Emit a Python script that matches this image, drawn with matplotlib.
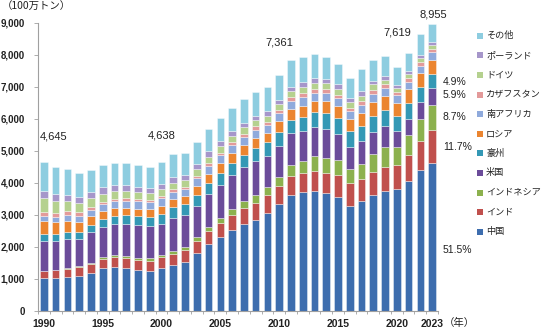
import matplotlib
matplotlib.use("Agg")
import matplotlib.pyplot as plt
from matplotlib.patches import Rectangle
import numpy as np

years = list(range(1990, 2024))

china = [1030, 1040, 1070, 1100, 1200, 1340, 1380, 1340, 1280, 1250, 1340, 1440, 1530, 1810,
         2090, 2320, 2520, 2720, 2840, 3050, 3330, 3620, 3700, 3760, 3670, 3560, 3290, 3420,
         3610, 3740, 3810, 4060, 4400, 4610]
india = [223, 240, 256, 270, 280, 297, 314, 322, 317, 319, 335, 348, 362, 381, 409, 437, 470,
         503, 530, 560, 570, 580, 600, 610, 650, 680, 700, 710, 740, 770, 750, 810, 910, 1048]
indonesia = [11, 14, 23, 27, 32, 41, 50, 55, 62, 73, 77, 92, 103, 114, 132, 152, 194, 217, 240,
             256, 275, 353, 386, 474, 458, 462, 456, 461, 557, 616, 564, 614, 687, 779]
usa = [934, 904, 905, 858, 945, 937, 964, 990, 1017, 1000, 974, 1024, 993, 972, 1008, 1026,
       1054, 1040, 1063, 975, 984, 993, 922, 893, 907, 813, 660, 702, 686, 640, 485, 524, 539, 528]
australia = [206, 215, 223, 225, 225, 243, 254, 275, 290, 297, 309, 330, 339, 351, 362, 378, 382,
             393, 401, 420, 435, 416, 448, 471, 502, 504, 503, 482, 500, 506, 476, 474, 445, 440]
russia = [395, 353, 337, 305, 271, 263, 257, 245, 232, 250, 258, 270, 256, 277, 282, 299, 310,
          314, 329, 301, 322, 337, 358, 355, 358, 374, 386, 412, 439, 440, 400, 436, 440, 440]
south_africa = [175, 178, 174, 182, 195, 206, 206, 220, 223, 224, 224, 223, 220, 237, 243, 245,
                245, 248, 253, 250, 255, 252, 259, 256, 261, 252, 250, 252, 254, 254, 248, 235, 230, 235]
kazakhstan = [131, 130, 126, 112, 105, 83, 77, 73, 70, 58, 75, 79, 71, 85, 87, 87, 97, 97, 111,
              101, 111, 116, 121, 120, 114, 107, 103, 112, 118, 115, 113, 116, 118, 112]
germany = [433, 360, 322, 297, 262, 253, 243, 228, 212, 204, 206, 205, 211, 206, 210, 206, 199,
           202, 192, 184, 183, 189, 197, 191, 186, 184, 176, 175, 169, 133, 107, 126, 131, 102]
poland = [215, 209, 198, 198, 200, 200, 202, 201, 179, 171, 163, 164, 162, 163, 162, 160, 156,
          145, 144, 135, 133, 139, 144, 143, 137, 136, 131, 127, 122, 112, 101, 107, 107, 100]
other = [892, 847, 806, 736, 695, 687, 663, 661, 688, 644, 677, 715, 683, 694, 705, 720, 723,
         741, 747, 748, 763, 835, 805, 737, 697, 638, 615, 697, 655, 644, 565, 548, 633, 561]

names = ["中国", "インド", "インドネシア", "米国", "豪州", "ロシア", "南アフリカ",
         "カザフスタン", "ドイツ", "ポーランド", "その他"]
series = [china, india, indonesia, usa, australia, russia, south_africa,
          kazakhstan, germany, poland, other]
colors = ["#3D6DAE", "#C0504D", "#8CB14E", "#6B4C9A", "#3498B5", "#EB8530", "#8FAADC",
          "#E39A9A", "#B5D18F", "#A696CA", "#8ECDE0"]

total_label_years = [1990, 2000, 2010, 2020, 2023]
total_label_values = [4645, 4638, 7361, 7619, 8955]
share_countries = ["中国", "インド", "インドネシア", "米国", "豪州"]

ytick_values = list(range(0, 9001, 1000))
xtick_years = [1990, 1995, 2000, 2005, 2010, 2015, 2020, 2023]

plt.rcParams['font.family'] = ['Noto Sans CJK JP', 'DejaVu Sans']

W, H = 544, 328
fig = plt.figure(figsize=(W / 100, H / 100), dpi=100)
ax = fig.add_axes([38 / W, (H - 311) / H, 400 / W, (311 - 22.7) / H])

bottom = np.zeros(len(years))
for vals, col in zip(series, colors):
    ax.bar(years, vals, width=0.65, bottom=bottom, color=col,
           edgecolor=(1, 1, 1, 0.45), linewidth=0.6, zorder=2)
    bottom += np.array(vals)

ax.set_xlim(1989.5, 2023.5)
ax.set_ylim(0, 9000)

num_font = ['Liberation Sans', 'DejaVu Sans']
ax.set_yticks(ytick_values)
ax.set_yticklabels([f"{v:,}" for v in ytick_values], fontsize=7, fontweight='bold',
                   family=num_font, color='#222222')
ax.set_xticks(xtick_years)
ax.set_xticklabels([str(y) for y in xtick_years], fontsize=7.5, fontweight='bold',
                   family=num_font, color='#222222')
ax.set_xticks(np.arange(1989.5, 2024, 1), minor=True)
ax.tick_params(axis='x', which='major', length=0, pad=6)
ax.tick_params(axis='x', which='minor', length=2.5, color='#A0A0A0', width=0.6)
ax.tick_params(axis='y', length=3, color='#A0A0A0', width=0.6, pad=6.5)

for s in ['top', 'right']:
    ax.spines[s].set_visible(False)
for s in ['left', 'bottom']:
    ax.spines[s].set_color('#A0A0A0')
    ax.spines[s].set_linewidth(0.8)

# total labels (positions tuned to reference)
label_y = [5440, 5470, 8380, 8690, 9250]
label_dx = [0.8, 0, 0, 0, 0.1]
for yr, v, ly, dx in zip(total_label_years, total_label_values, label_y, label_dx):
    ax.text(yr + dx, ly, f"{v:,}", ha='center', va='center', fontsize=8,
            family=['Liberation Sans', 'DejaVu Sans'], color='#222222', clip_on=False)

# share labels for 2023
last_total = sum(s[-1] for s in series)
share_y = [1900, 5130, 6060, 6750, 7160]
for nm, sy in zip(share_countries, share_y):
    v = series[names.index(nm)][-1]
    ax.text(2023.9, sy, f"{v / last_total * 100:.1f}%", ha='left', va='center',
            fontsize=7.5, family=['Liberation Sans', 'DejaVu Sans'], color='#222222',
            clip_on=False)

fig.text(2 / W, 1 - 7 / H, "（100万トン）", ha='left', va='center', fontsize=7.5, color='#222222')
fig.text(444 / W, 1 - 323 / H, "（年）", ha='left', va='center', fontsize=7.5, color='#222222')

# legend (top to bottom: その他 ... 中国)
y0, dy = 35.7, 19.6
for i, (nm, col) in enumerate(zip(names[::-1], colors[::-1])):
    yc = y0 + i * dy
    fig.patches.append(Rectangle((477 / W, 1 - (yc + 3) / H), 6 / W, 6 / H,
                                 transform=fig.transFigure, facecolor=col,
                                 edgecolor='none'))
    fig.text(486 / W, 1 - yc / H, nm, ha='left', va='center', fontsize=6.6,
             color='#222222')

fig.savefig("out.png", dpi=100)
